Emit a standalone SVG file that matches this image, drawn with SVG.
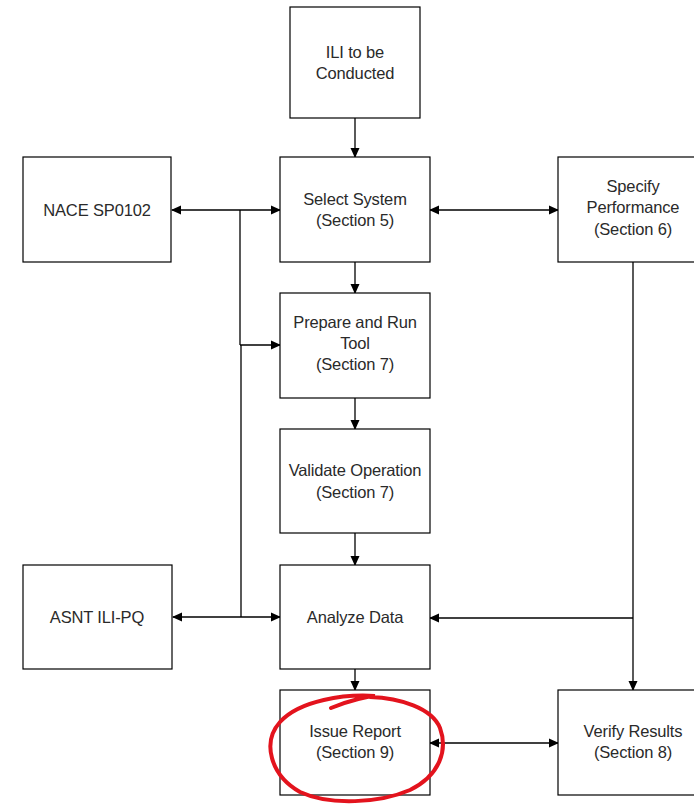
<svg xmlns="http://www.w3.org/2000/svg" width="694" height="806" viewBox="0 0 694 806">
<style>
.box{fill:#fff;stroke:#000;stroke-width:1.2}
.t{font-family:"Liberation Sans",Arial,sans-serif;font-size:16.5px;letter-spacing:-0.15px;fill:#2a2a2a;text-anchor:middle}
.c{stroke:#000;stroke-width:1.3;fill:none}
</style>
<defs>
<marker id="ah" markerWidth="10" markerHeight="10" refX="9" refY="5" orient="auto-start-reverse" markerUnits="userSpaceOnUse">
<path d="M0,0.5 L10,5 L0,9.5 Z" fill="#000"/>
</marker>
</defs>
<rect width="694" height="806" fill="#fff"/>
<g id="connectors">
<line class="c" x1="355" y1="118" x2="355" y2="157" marker-end="url(#ah)"/>
<line class="c" x1="172" y1="210" x2="280" y2="210" marker-start="url(#ah)" marker-end="url(#ah)"/>
<line class="c" x1="240" y1="210" x2="240" y2="345" stroke-width="2.2"/>
<line class="c" x1="241" y1="345" x2="241" y2="617"/>
<line class="c" x1="240" y1="345" x2="280" y2="345" marker-end="url(#ah)"/>
<line class="c" x1="173" y1="617" x2="280" y2="617" marker-start="url(#ah)" marker-end="url(#ah)"/>
<line class="c" x1="430" y1="210" x2="558" y2="210" marker-start="url(#ah)" marker-end="url(#ah)"/>
<line class="c" x1="355" y1="262" x2="355" y2="293" marker-end="url(#ah)"/>
<line class="c" x1="355" y1="398" x2="355" y2="429" marker-end="url(#ah)"/>
<line class="c" x1="355" y1="533" x2="355" y2="565" marker-end="url(#ah)"/>
<line class="c" x1="355" y1="669" x2="355" y2="690" marker-end="url(#ah)"/>
<line class="c" x1="633" y1="262" x2="633" y2="690" marker-end="url(#ah)"/>
<line class="c" x1="633" y1="618" x2="430" y2="618" marker-end="url(#ah)"/>
<line class="c" x1="430" y1="743" x2="558" y2="743" marker-start="url(#ah)" marker-end="url(#ah)"/>
</g>
<g id="ili"><rect class="box" x="290" y="7" width="130" height="111"/>
<text class="t" x="355" y="58">ILI to be</text><text class="t" x="355" y="79">Conducted</text></g>
<g id="nace"><rect class="box" x="23" y="157" width="148" height="105"/>
<text class="t" x="97" y="216">NACE SP0102</text></g>
<g id="select"><rect class="box" x="280" y="157" width="150" height="105"/>
<text class="t" x="355" y="205">Select System</text><text class="t" x="355" y="226">(Section 5)</text></g>
<g id="specify"><rect class="box" x="558" y="157" width="150" height="105"/>
<text class="t" x="633" y="192">Specify</text><text class="t" x="633" y="213">Performance</text><text class="t" x="633" y="235">(Section 6)</text></g>
<g id="prepare"><rect class="box" x="280" y="293" width="150" height="105"/>
<text class="t" x="355" y="328">Prepare and Run</text><text class="t" x="355" y="349">Tool</text><text class="t" x="355" y="370">(Section 7)</text></g>
<g id="validate"><rect class="box" x="280" y="429" width="150" height="104"/>
<text class="t" x="355" y="476">Validate Operation</text><text class="t" x="355" y="498">(Section 7)</text></g>
<g id="asnt"><rect class="box" x="23" y="565" width="149" height="104"/>
<text class="t" x="97" y="623">ASNT ILI-PQ</text></g>
<g id="analyze"><rect class="box" x="280" y="565" width="150" height="104"/>
<text class="t" x="355" y="623">Analyze Data</text></g>
<g id="issue"><rect class="box" x="280" y="690" width="150" height="105"/>
<text class="t" x="355" y="737">Issue Report</text><text class="t" x="355" y="758">(Section 9)</text></g>
<g id="verify"><rect class="box" x="558" y="690" width="150" height="105"/>
<text class="t" x="633" y="737">Verify Results</text><text class="t" x="633" y="758">(Section 8)</text></g>
<g id="highlight">
<path d="M331,708 C350,700 370,696 375,696 C345,694 300,700 280,722 C262,742 270,775 300,792 C330,806 380,803 410,790 C440,775 448,750 440,728 C432,708 400,698 370,697" fill="none" stroke="#e3131d" stroke-width="4" stroke-linecap="round"/>
</g>
</svg>
